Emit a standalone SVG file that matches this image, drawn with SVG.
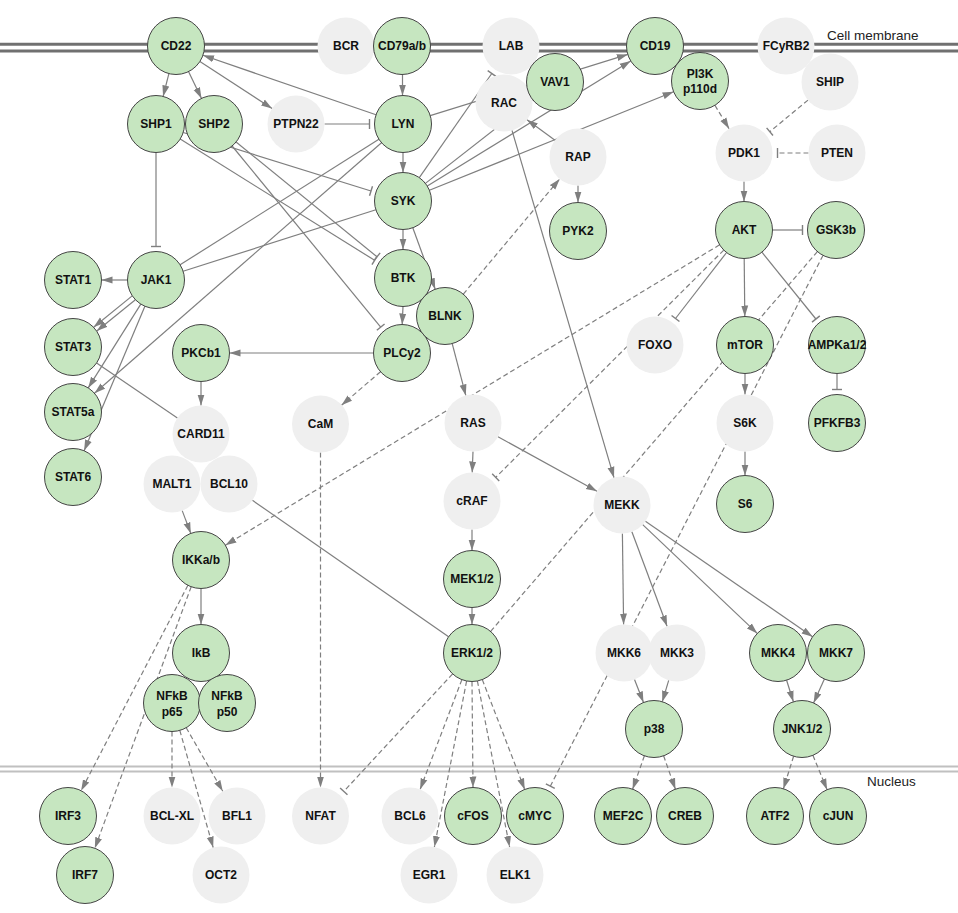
<svg xmlns="http://www.w3.org/2000/svg" width="958" height="913" viewBox="0 0 958 913">
<defs>
<style>
.e{fill:none;stroke:#7f7f7f;stroke-width:1.2}
.d{stroke-dasharray:5 3}
.a{marker-end:url(#arr)}
.i{marker-end:url(#inh)}
.g circle{fill:#c6e6c0;stroke:#444;stroke-width:1}
.n circle{fill:#efefef}
text{font-family:"Liberation Sans",Arial,sans-serif;font-weight:bold;font-size:12px;text-anchor:middle;fill:#111}
.lbl{font-weight:normal;font-size:13.5px;text-anchor:start;fill:#222}
</style>
<marker id="arr" markerUnits="userSpaceOnUse" markerWidth="12" markerHeight="8" refX="11" refY="4" orient="auto"><path d="M0,0.5 L11,4 L0,7.5 z" fill="#7f7f7f"/></marker>
<marker id="inh" markerUnits="userSpaceOnUse" markerWidth="4" markerHeight="12" refX="2" refY="6" orient="auto"><path d="M2,1 L2,11" stroke="#7f7f7f" stroke-width="1.4"/></marker>
</defs>
<rect width="958" height="913" fill="#fff"/>
<g id="membranes">
<line x1="0" y1="44.2" x2="958" y2="44.2" stroke="#707070" stroke-width="3"/>
<line x1="0" y1="51" x2="958" y2="51" stroke="#707070" stroke-width="3"/>
<line x1="0" y1="766.5" x2="958" y2="766.5" stroke="#c0c0c0" stroke-width="2"/>
<line x1="0" y1="771.5" x2="958" y2="771.5" stroke="#c0c0c0" stroke-width="2"/>
<text class="lbl" x="827" y="40">Cell membrane</text>
<text class="lbl" x="867" y="786">Nucleus</text>
</g>
<g id="connectors">
<line class="e a" x1="168.9" y1="73.6" x2="163.1" y2="96.4"/>
<line class="e a" x1="188.5" y1="71.6" x2="201.5" y2="98.4"/>
<line class="e a" x1="199.9" y1="61.5" x2="272.1" y2="108.5"/>
<line class="e a" x1="376" y1="114.7" x2="203" y2="55.3"/>
<line class="e i" x1="324.5" y1="124" x2="369.5" y2="124"/>
<line class="e a" x1="402.5" y1="74.5" x2="402.5" y2="95.5"/>
<line class="e a" x1="403" y1="152.5" x2="403" y2="172.5"/>
<line class="e a" x1="403" y1="229.5" x2="403" y2="249.5"/>
<line class="e a" x1="403" y1="306.5" x2="402.2" y2="324.5"/>
<line class="e a" x1="412.8" y1="227.8" x2="435.2" y2="289.2"/>
<line class="e a" x1="452.2" y1="343.6" x2="465.8" y2="395.4"/>
<line class="e d a" x1="463.3" y1="294.1" x2="559.7" y2="178.9"/>
<line class="e a" x1="555" y1="140.2" x2="527" y2="119.8"/>
<line class="e a" x1="578" y1="185.5" x2="578" y2="202.5"/>
<line class="e a" x1="512" y1="130.3" x2="614" y2="477.7"/>
<line class="e i" x1="419.3" y1="177.6" x2="491.8" y2="73.5"/>
<line class="e a" x1="425.4" y1="183.4" x2="532.6" y2="99.6"/>
<line class="e a" x1="427.3" y1="186.1" x2="630.7" y2="60.9"/>
<line class="e a" x1="429.4" y1="190.3" x2="673.6" y2="91.7"/>
<line class="e a" x1="430.2" y1="115.6" x2="627.8" y2="54.4"/>
<line class="e" x1="378.9" y1="139.2" x2="180.1" y2="264.8"/>
<line class="e" x1="375.9" y1="209.7" x2="183.1" y2="271.3"/>
<line class="e a" x1="381.5" y1="142.7" x2="94.5" y2="393.3"/>
<line class="e i" x1="156" y1="152.5" x2="156" y2="246.5"/>
<line class="e i" x1="183.2" y1="132.5" x2="371" y2="191"/>
<line class="e i" x1="180.2" y1="139.1" x2="374.6" y2="260.3"/>
<line class="e i" x1="236.1" y1="142" x2="377" y2="256.8"/>
<line class="e i" x1="232.1" y1="146" x2="380.7" y2="327.1"/>
<line class="e a" x1="127.5" y1="280" x2="101.5" y2="280"/>
<line class="e a" x1="135.4" y1="299.8" x2="96.8" y2="331"/>
<line class="e a" x1="132.2" y1="295.9" x2="93.6" y2="327.2"/>
<line class="e a" x1="140.8" y1="304.1" x2="88.2" y2="387.9"/>
<line class="e a" x1="144.9" y1="306.3" x2="84.1" y2="450.7"/>
<line class="e" x1="96.6" y1="363" x2="177.4" y2="418"/>
<line class="e a" x1="373.5" y1="353" x2="229.5" y2="353"/>
<line class="e a" x1="201" y1="381.5" x2="201" y2="405.5"/>
<line class="e d a" x1="380.5" y1="371.7" x2="341.5" y2="405.3"/>
<line class="e d a" x1="320.5" y1="452.5" x2="320.5" y2="787.5"/>
<line class="e a" x1="182.2" y1="510.6" x2="190.8" y2="533.4"/>
<line class="e" x1="252.4" y1="500.3" x2="448.6" y2="636.7"/>
<line class="e d a" x1="719.6" y1="244.8" x2="225.4" y2="545.2"/>
<line class="e a" x1="201" y1="588.5" x2="201" y2="624.5"/>
<line class="e d a" x1="187.9" y1="585.3" x2="81.1" y2="790.7"/>
<line class="e d a" x1="191.2" y1="586.7" x2="94.8" y2="848.3"/>
<line class="e d a" x1="172" y1="731.5" x2="172" y2="787.5"/>
<line class="e d a" x1="179.8" y1="730.4" x2="213.2" y2="847.6"/>
<line class="e d a" x1="186.2" y1="727.7" x2="222.8" y2="791.3"/>
<line class="e a" x1="473" y1="451.5" x2="472.2" y2="472.5"/>
<line class="e a" x1="498" y1="436.7" x2="597" y2="491.3"/>
<line class="e a" x1="472" y1="529.5" x2="472" y2="550.5"/>
<line class="e a" x1="472" y1="607.5" x2="472" y2="624.5"/>
<line class="e d i" x1="723.8" y1="250.1" x2="495.7" y2="477.4"/>
<line class="e d" x1="817.4" y1="251.6" x2="490.6" y2="631.4"/>
<line class="e d i" x1="823" y1="255.4" x2="550.3" y2="786.2"/>
<line class="e i" x1="772.5" y1="230" x2="802.5" y2="230"/>
<line class="e a" x1="744.2" y1="258.5" x2="744.8" y2="316.5"/>
<line class="e i" x1="726.6" y1="252.5" x2="675.5" y2="318.5"/>
<line class="e i" x1="761.9" y1="252.2" x2="815.9" y2="319"/>
<line class="e i" x1="837" y1="373.5" x2="837" y2="389.5"/>
<line class="e a" x1="745" y1="373.5" x2="745" y2="394.5"/>
<line class="e a" x1="745" y1="451.5" x2="745" y2="475.5"/>
<line class="e d a" x1="714.9" y1="105.3" x2="729.1" y2="128.7"/>
<line class="e d i" x1="808" y1="100.1" x2="769.8" y2="131.7"/>
<line class="e d i" x1="808.5" y1="153" x2="777.5" y2="153"/>
<line class="e a" x1="744" y1="181.5" x2="744" y2="201.5"/>
<line class="e a" x1="622.4" y1="533.5" x2="623.6" y2="624.5"/>
<line class="e a" x1="631.9" y1="531.7" x2="667.1" y2="626.3"/>
<line class="e a" x1="642.7" y1="524.6" x2="757.3" y2="633.4"/>
<line class="e a" x1="645.4" y1="521.2" x2="812.6" y2="636.8"/>
<line class="e a" x1="634.5" y1="679.5" x2="643.5" y2="702.5"/>
<line class="e a" x1="668.7" y1="680.3" x2="662.3" y2="701.7"/>
<line class="e a" x1="786.6" y1="680.2" x2="793.4" y2="701.8"/>
<line class="e a" x1="824.4" y1="679" x2="813.6" y2="703"/>
<line class="e d a" x1="644.4" y1="755.8" x2="632.6" y2="789.2"/>
<line class="e d a" x1="663.6" y1="755.8" x2="675.4" y2="789.2"/>
<line class="e d a" x1="793.6" y1="756.2" x2="783.4" y2="788.8"/>
<line class="e d a" x1="812.9" y1="755.3" x2="827.1" y2="789.7"/>
<line class="e d i" x1="452.6" y1="673.9" x2="343.8" y2="791.4"/>
<line class="e d a" x1="461.9" y1="679.6" x2="420.1" y2="789.4"/>
<line class="e d a" x1="466.6" y1="681" x2="434.4" y2="847"/>
<line class="e d a" x1="472" y1="681.5" x2="473" y2="787.5"/>
<line class="e d a" x1="477.4" y1="681" x2="509.6" y2="847"/>
<line class="e d a" x1="482.3" y1="679.6" x2="524.7" y2="789.4"/>
</g>
<g id="n-CD22" class="g"><circle cx="176" cy="46" r="28.5"/><text x="176" y="50">CD22</text></g>
<g id="n-BCR" class="n"><circle cx="346" cy="46" r="28.5"/><text x="346" y="50">BCR</text></g>
<g id="n-CD79ab" class="g"><circle cx="402" cy="46" r="28.5"/><text x="402" y="50">CD79a/b</text></g>
<g id="n-LAB" class="n"><circle cx="511" cy="46" r="28.5"/><text x="511" y="50">LAB</text></g>
<g id="n-CD19" class="g"><circle cx="655" cy="46" r="28.5"/><text x="655" y="50">CD19</text></g>
<g id="n-FCyRB2" class="n"><circle cx="786" cy="46" r="28.5"/><text x="786" y="50">FCyRB2</text></g>
<g id="n-SHP1" class="g"><circle cx="156" cy="124" r="28.5"/><text x="156" y="128">SHP1</text></g>
<g id="n-SHP2" class="g"><circle cx="214" cy="124" r="28.5"/><text x="214" y="128">SHP2</text></g>
<g id="n-PTPN22" class="n"><circle cx="296" cy="124" r="28.5"/><text x="296" y="128">PTPN22</text></g>
<g id="n-LYN" class="g"><circle cx="403" cy="124" r="28.5"/><text x="403" y="128">LYN</text></g>
<g id="n-RAC" class="n"><circle cx="504" cy="103" r="28.5"/><text x="504" y="107">RAC</text></g>
<g id="n-VAV1" class="g"><circle cx="555" cy="82" r="28.5"/><text x="555" y="86">VAV1</text></g>
<g id="n-PI3K" class="g"><circle cx="700" cy="81" r="28.5"/><text x="700" y="78">PI3K</text><text x="700" y="93">p110d</text></g>
<g id="n-SHIP" class="n"><circle cx="830" cy="82" r="28.5"/><text x="830" y="86">SHIP</text></g>
<g id="n-RAP" class="n"><circle cx="578" cy="157" r="28.5"/><text x="578" y="161">RAP</text></g>
<g id="n-PDK1" class="n"><circle cx="744" cy="153" r="28.5"/><text x="744" y="157">PDK1</text></g>
<g id="n-PTEN" class="n"><circle cx="837" cy="153" r="28.5"/><text x="837" y="157">PTEN</text></g>
<g id="n-SYK" class="g"><circle cx="403" cy="201" r="28.5"/><text x="403" y="205">SYK</text></g>
<g id="n-PYK2" class="g"><circle cx="578" cy="231" r="28.5"/><text x="578" y="235">PYK2</text></g>
<g id="n-AKT" class="g"><circle cx="744" cy="230" r="28.5"/><text x="744" y="234">AKT</text></g>
<g id="n-GSK3b" class="g"><circle cx="836" cy="230" r="28.5"/><text x="836" y="234">GSK3b</text></g>
<g id="n-STAT1" class="g"><circle cx="73" cy="280" r="28.5"/><text x="73" y="284">STAT1</text></g>
<g id="n-JAK1" class="g"><circle cx="156" cy="280" r="28.5"/><text x="156" y="284">JAK1</text></g>
<g id="n-BTK" class="g"><circle cx="403" cy="278" r="28.5"/><text x="403" y="282">BTK</text></g>
<g id="n-PLCy2" class="g"><circle cx="402" cy="353" r="28.5"/><text x="402" y="357">PLCy2</text></g>
<g id="n-BLNK" class="g"><circle cx="445" cy="316" r="28.5"/><text x="445" y="320">BLNK</text></g>
<g id="n-STAT3" class="g"><circle cx="73" cy="347" r="28.5"/><text x="73" y="351">STAT3</text></g>
<g id="n-PKCb1" class="g"><circle cx="201" cy="353" r="28.5"/><text x="201" y="357">PKCb1</text></g>
<g id="n-FOXO" class="n"><circle cx="655" cy="345" r="28.5"/><text x="655" y="349">FOXO</text></g>
<g id="n-mTOR" class="g"><circle cx="745" cy="345" r="28.5"/><text x="745" y="349">mTOR</text></g>
<g id="n-AMPKa12" class="g"><circle cx="837" cy="345" r="28.5"/><text x="837" y="349">AMPKa1/2</text></g>
<g id="n-STAT5a" class="g"><circle cx="73" cy="412" r="28.5"/><text x="73" y="416">STAT5a</text></g>
<g id="n-CARD11" class="n"><circle cx="201" cy="434" r="28.5"/><text x="201" y="438">CARD11</text></g>
<g id="n-CaM" class="n"><circle cx="320.5" cy="424" r="28.5"/><text x="320.5" y="428">CaM</text></g>
<g id="n-RAS" class="n"><circle cx="473" cy="423" r="28.5"/><text x="473" y="427">RAS</text></g>
<g id="n-S6K" class="n"><circle cx="745" cy="423" r="28.5"/><text x="745" y="427">S6K</text></g>
<g id="n-PFKFB3" class="g"><circle cx="837" cy="423" r="28.5"/><text x="837" y="427">PFKFB3</text></g>
<g id="n-STAT6" class="g"><circle cx="73" cy="477" r="28.5"/><text x="73" y="481">STAT6</text></g>
<g id="n-MALT1" class="n"><circle cx="172" cy="484" r="28.5"/><text x="172" y="488">MALT1</text></g>
<g id="n-BCL10" class="n"><circle cx="229" cy="484" r="28.5"/><text x="229" y="488">BCL10</text></g>
<g id="n-cRAF" class="n"><circle cx="472" cy="501" r="28.5"/><text x="472" y="505">cRAF</text></g>
<g id="n-MEKK" class="n"><circle cx="622" cy="505" r="28.5"/><text x="622" y="509">MEKK</text></g>
<g id="n-S6" class="g"><circle cx="745" cy="504" r="28.5"/><text x="745" y="508">S6</text></g>
<g id="n-IKKab" class="g"><circle cx="201" cy="560" r="28.5"/><text x="201" y="564">IKKa/b</text></g>
<g id="n-MEK12" class="g"><circle cx="472" cy="579" r="28.5"/><text x="472" y="583">MEK1/2</text></g>
<g id="n-IkB" class="g"><circle cx="201" cy="653" r="28.5"/><text x="201" y="657">IkB</text></g>
<g id="n-ERK12" class="g"><circle cx="472" cy="653" r="28.5"/><text x="472" y="657">ERK1/2</text></g>
<g id="n-MKK6" class="n"><circle cx="624" cy="653" r="28.5"/><text x="624" y="657">MKK6</text></g>
<g id="n-MKK3" class="n"><circle cx="677" cy="653" r="28.5"/><text x="677" y="657">MKK3</text></g>
<g id="n-MKK4" class="g"><circle cx="778" cy="653" r="28.5"/><text x="778" y="657">MKK4</text></g>
<g id="n-MKK7" class="g"><circle cx="836" cy="653" r="28.5"/><text x="836" y="657">MKK7</text></g>
<g id="n-NFkBp65" class="g"><circle cx="172" cy="703" r="28.5"/><text x="172" y="700">NFkB</text><text x="172" y="716">p65</text></g>
<g id="n-NFkBp50" class="g"><circle cx="227" cy="703" r="28.5"/><text x="227" y="700">NFkB</text><text x="227" y="716">p50</text></g>
<g id="n-p38" class="g"><circle cx="654" cy="729" r="28.5"/><text x="654" y="733">p38</text></g>
<g id="n-JNK12" class="g"><circle cx="802" cy="729" r="28.5"/><text x="802" y="733">JNK1/2</text></g>
<g id="n-IRF3" class="g"><circle cx="68" cy="816" r="28.5"/><text x="68" y="820">IRF3</text></g>
<g id="n-BCLXL" class="n"><circle cx="172" cy="816" r="28.5"/><text x="172" y="820">BCL-XL</text></g>
<g id="n-BFL1" class="n"><circle cx="237" cy="816" r="28.5"/><text x="237" y="820">BFL1</text></g>
<g id="n-NFAT" class="n"><circle cx="320.5" cy="816" r="28.5"/><text x="320.5" y="820">NFAT</text></g>
<g id="n-BCL6" class="n"><circle cx="410" cy="816" r="28.5"/><text x="410" y="820">BCL6</text></g>
<g id="n-cFOS" class="g"><circle cx="473" cy="816" r="28.5"/><text x="473" y="820">cFOS</text></g>
<g id="n-cMYC" class="g"><circle cx="535" cy="816" r="28.5"/><text x="535" y="820">cMYC</text></g>
<g id="n-MEF2C" class="g"><circle cx="623" cy="816" r="28.5"/><text x="623" y="820">MEF2C</text></g>
<g id="n-CREB" class="g"><circle cx="685" cy="816" r="28.5"/><text x="685" y="820">CREB</text></g>
<g id="n-ATF2" class="g"><circle cx="775" cy="816" r="28.5"/><text x="775" y="820">ATF2</text></g>
<g id="n-cJUN" class="g"><circle cx="838" cy="816" r="28.5"/><text x="838" y="820">cJUN</text></g>
<g id="n-IRF7" class="g"><circle cx="85" cy="875" r="28.5"/><text x="85" y="879">IRF7</text></g>
<g id="n-OCT2" class="n"><circle cx="221" cy="875" r="28.5"/><text x="221" y="879">OCT2</text></g>
<g id="n-EGR1" class="n"><circle cx="429" cy="875" r="28.5"/><text x="429" y="879">EGR1</text></g>
<g id="n-ELK1" class="n"><circle cx="515" cy="875" r="28.5"/><text x="515" y="879">ELK1</text></g>
</svg>
